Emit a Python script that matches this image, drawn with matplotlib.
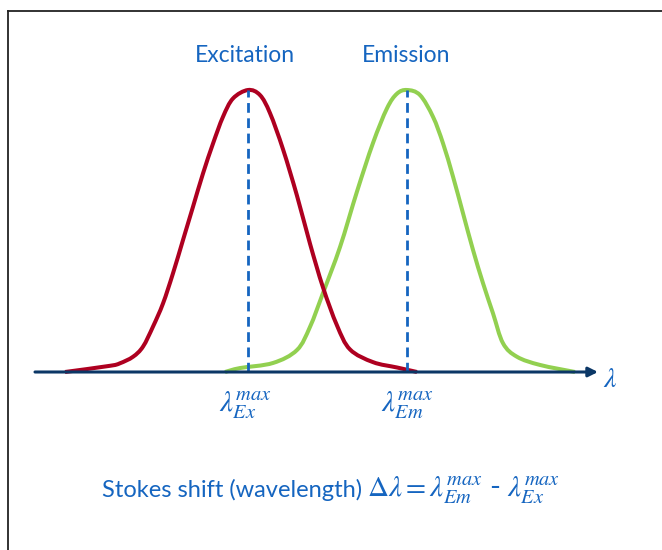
import matplotlib
matplotlib.use('Agg')
import matplotlib.pyplot as plt
from matplotlib.lines import Line2D
from matplotlib.path import Path
from matplotlib.patches import PathPatch
import numpy as np

# peak positions (arbitrary wavelength units)
ex_peak = 248
em_peak = 407

# excitation band: offset from peak, relative intensity
ex_offset = [-183, -138, -128, -115, -105, -95, -85, -75, -65, -55, -45, -35, -25, -15, 0,
             12, 22, 35, 49, 62, 75, 89, 102, 125, 149, 169]
ex_int = [0.0, 0.022, 0.031, 0.054, 0.090, 0.161, 0.243, 0.350, 0.468, 0.586, 0.704, 0.810,
          0.905, 0.970, 1.0,
          0.982, 0.918, 0.790, 0.625, 0.455, 0.300, 0.165, 0.080, 0.035, 0.016, 0.0]

# emission band
em_offset = [-182, -167, -134, -110, -97, -84, -67, -50, -34, -20, -10, 0,
             13, 26, 36, 46, 56, 66, 76, 86, 96, 110, 133, 168]
em_int = [0.0, 0.014, 0.032, 0.078, 0.160, 0.280, 0.443, 0.640, 0.812, 0.935, 0.987, 1.0,
          0.982, 0.905, 0.811, 0.693, 0.563, 0.433, 0.315, 0.208, 0.102, 0.054, 0.025, 0.0]

axis_start, axis_end = 35, 598

red = '#AE0020'
green = '#92D050'
navy = '#0B3766'
blue = '#1565C0'

plt.rcParams['mathtext.fontset'] = 'stix'


def smooth_path(xs, ys):
    # catmull-rom through the points, drawn as cubic beziers
    pts = np.column_stack([xs, ys]).astype(float)
    ext = np.vstack([pts[0], pts, pts[-1]])
    verts = [pts[0]]
    codes = [Path.MOVETO]
    for i in range(1, len(ext) - 2):
        p0, p1, p2, p3 = ext[i - 1], ext[i], ext[i + 1], ext[i + 2]
        verts += [p1 + (p2 - p0) / 6, p2 - (p3 - p1) / 6, p2]
        codes += [Path.CURVE4] * 3
    return Path(verts, codes)


fig = plt.figure(figsize=(6.62, 5.5), dpi=100)
ax = fig.add_axes([0, 0, 1, 1])
ax.set_xlim(0, 662)
ax.set_ylim(-178 / 282, 372 / 282)
ax.axis('off')

# wavelength axis with arrow
ax.annotate('', xy=(axis_end, 0), xytext=(axis_start, 0),
            arrowprops=dict(arrowstyle='-|>', color=navy, lw=2.2, mutation_scale=14,
                            shrinkA=0, shrinkB=0))

ax.add_patch(PathPatch(smooth_path(em_peak + np.array(em_offset), em_int),
                       fill=False, edgecolor=green, lw=2.9, capstyle='butt'))
ax.add_patch(PathPatch(smooth_path(ex_peak + np.array(ex_offset), ex_int),
                       fill=False, edgecolor=red, lw=2.9, capstyle='butt'))

ax.plot([ex_peak, ex_peak], [0, 1], color=blue, lw=2.0, ls=(0, (3.5, 2)))
ax.plot([em_peak, em_peak], [0, 1], color=blue, lw=2.0, ls=(0, (3.5, 2)))

xt = ax.get_xaxis_transform()
ax.text(ex_peak - 3, 1 - 55 / 550, 'Excitation', transform=xt, ha='center', va='center',
        color=blue, fontsize=16.5, family='Lato')
ax.text(em_peak - 1, 1 - 55 / 550, 'Emission', transform=xt, ha='center', va='center',
        color=blue, fontsize=16.5, family='Lato')

ax.text(ex_peak - 2, 1 - 405 / 550, r'$\lambda_{Ex}^{max}$', transform=xt, ha='center',
        va='center', color=blue, fontsize=21)
ax.text(em_peak + 1, 1 - 405 / 550, r'$\lambda_{Em}^{max}$', transform=xt, ha='center',
        va='center', color=blue, fontsize=21)
ax.text(610 / 662, 1 - 379 / 550, r'$\lambda$', transform=ax.transAxes, ha='center',
        va='center', color=blue, fontsize=20)

ax.text(362 / 662, 1 - 490 / 550, 'Stokes shift (wavelength)', transform=ax.transAxes,
        ha='right', va='center', color=blue, fontsize=17, family='Lato')
ax.text(367 / 662, 1 - 490 / 550,
        r'$\Delta\lambda = \lambda_{Em}^{max}$ - $\lambda_{Ex}^{max}$',
        transform=ax.transAxes, ha='left', va='center', color=blue, fontsize=21, family='Lato')

# frame lines on the left and top
fig.add_artist(Line2D([8 / 662, 8 / 662], [0, 1 - 11 / 550], transform=fig.transFigure,
                      color='#222222', lw=1.3))
fig.add_artist(Line2D([8 / 662, 1], [1 - 11 / 550, 1 - 11 / 550], transform=fig.transFigure,
                      color='#222222', lw=1.3))

fig.savefig('out.png', dpi=100)
